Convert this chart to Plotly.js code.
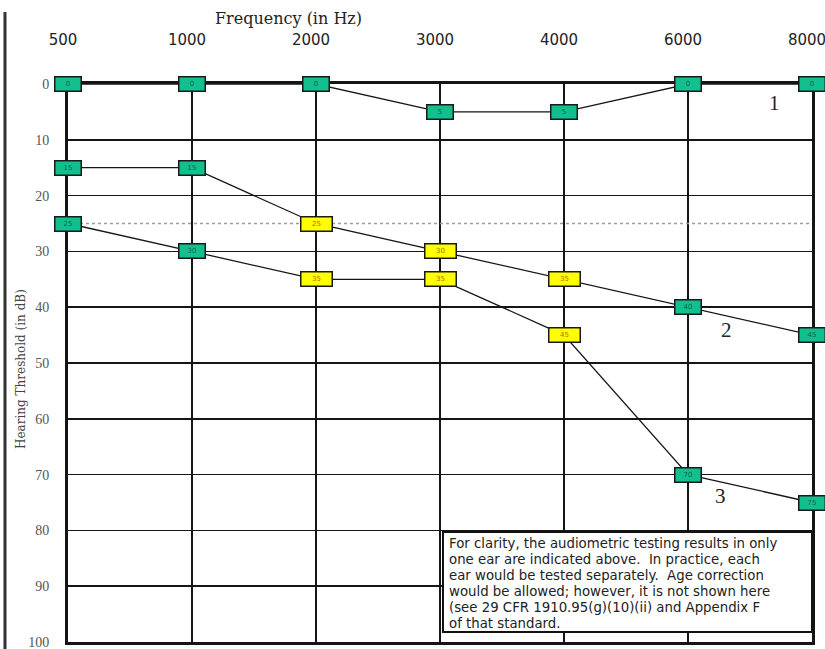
<!DOCTYPE html>
<html>
<head>
<meta charset="utf-8">
<script src="https://cdn.plot.ly/plotly-3.0.1.min.js"></script>
<style>
  html, body { margin: 0; padding: 0; background: #fff; }
  #chart { width: 825px; height: 649px; }
</style>
</head>
<body>
<div id="chart"></div>
<script>
// ---- data ----
const frequencies = ['500', '1000', '2000', '3000', '4000', '6000', '8000'];
const curve1 = [0, 0, 0, 5, 5, 0, 0];
const curve2 = [15, 15, 25, 30, 35, 40, 45];
const curve3 = [25, 30, 35, 35, 45, 70, 75];
const curveNames = ['1', '2', '3'];
const referenceLevel = 25;           // dotted reference line (dB)
const yTicks = [0, 10, 20, 30, 40, 50, 60, 70, 80, 90, 100];
const noteLines = [
  'For clarity, the audiometric testing results in only',
  'one ear are indicated above.  In practice, each',
  'ear would be tested separately.  Age correction',
  'would be allowed; however, it is not shown here',
  '(see 29 CFR 1910.95(g)(10)(ii) and Appendix F',
  'of that standard.'
];

// ---- styles ----
const GREEN = '#12c08f';
const YELLOW = '#ffff00';
const highlighted = ['2000', '3000', '4000']; // yellow boxes on curves 2 and 3
const serif = 'Liberation Serif, Times New Roman, serif';
const wideSerif = 'DejaVu Serif, serif';
const sans = 'DejaVu Sans, Verdana, sans-serif';

const curves = [curve1, curve2, curve3];
const xIndex = frequencies.map((f, i) => i);

const traces = [];
// dotted reference line
traces.push({
  x: frequencies, y: frequencies.map(() => referenceLevel),
  mode: 'lines', type: 'scatter', hoverinfo: 'skip', showlegend: false,
  line: { color: '#9a9a9a', width: 1.5, dash: 'dot' }
});
curves.forEach((c) => {
  traces.push({
    x: frequencies, y: c, mode: 'lines', type: 'scatter', showlegend: false,
    line: { color: '#151515', width: 1.3 }
  });
});

const annotations = [];
curves.forEach((c, ci) => {
  c.forEach((v, i) => {
    const yellow = ci > 0 && highlighted.includes(frequencies[i]);
    annotations.push({
      x: xIndex[i], y: v, xref: 'x', yref: 'y', showarrow: false,
      xanchor: 'center', yanchor: 'middle',
      text: String(v),
      font: { family: sans, size: 7, color: yellow ? '#b06a00' : '#0b5f45' },
      bgcolor: yellow ? YELLOW : GREEN,
      bordercolor: '#1a1a1a', borderwidth: 1.5, borderpad: 1,
      width: yellow ? 28 : 23, height: 11
    });
  });
});

// curve number labels
const labelPos = [[5.70, 3.4], [5.31, 44.0], [5.26, 73.8]];
curveNames.forEach((n, i) => {
  annotations.push({
    x: labelPos[i][0], y: labelPos[i][1], xref: 'x', yref: 'y', showarrow: false,
    xanchor: 'center', yanchor: 'middle',
    text: n, font: { family: serif, size: 21, color: '#222' }
  });
});

// axis titles
annotations.push({
  x: 0.296, y: 1.118, xref: 'paper', yref: 'paper', showarrow: false,
  xanchor: 'center', yanchor: 'middle', text: 'Frequency (in Hz)',
  font: { family: wideSerif, size: 16, color: '#222' }
});
annotations.push({
  x: -0.064, y: 0.49, xref: 'paper', yref: 'paper', showarrow: false,
  xanchor: 'center', yanchor: 'middle',
  textangle: -90, text: 'Hearing Threshold (in dB)',
  font: { family: wideSerif, size: 12, color: '#444' }
});

// note lines
noteLines.forEach((t, i) => {
  annotations.push({
    x: 0.51, y: 0.176 - i * 0.0284, xref: 'paper', yref: 'paper', showarrow: false,
    xanchor: 'left', yanchor: 'middle', align: 'left',
    text: t, font: { family: sans, size: 13.3, color: '#222' }
  });
});

const layout = {
  width: 825, height: 649,
  margin: { l: 68, r: 13, t: 84, b: 7 },
  paper_bgcolor: '#ffffff', plot_bgcolor: '#ffffff',
  showlegend: false,
  xaxis: {
    type: 'category', side: 'top', range: [0, 6],
    showgrid: true, gridcolor: '#151515', gridwidth: 1.6,
    showline: true, mirror: true, linecolor: '#151515', linewidth: 3,
    ticks: '', ticklabelstandoff: 30, ticklabelshift: -5,
    tickfont: { family: sans, size: 15, color: '#222' },
    zeroline: false, fixedrange: true
  },
  yaxis: {
    range: [100, 0], tickvals: yTicks,
    showgrid: true, gridcolor: '#151515', gridwidth: 1.6,
    showline: true, mirror: true, linecolor: '#151515', linewidth: 3,
    ticks: '', ticklabelstandoff: 13, ticklabeloverflow: 'allow',
    tickfont: { family: serif, size: 14, color: '#555' },
    zeroline: false, fixedrange: true
  },
  shapes: [
    { type: 'line', xref: 'paper', yref: 'paper', x0: -0.0847, x1: -0.0847,
      y0: -0.02, y1: 1.129, line: { color: '#333', width: 3 } },
    { type: 'rect', xref: 'paper', yref: 'paper', layer: 'above',
      x0: 0.504, x1: 1.0, y0: 0.0179, y1: 0.197,
      fillcolor: '#ffffff', line: { color: '#111', width: 2 } }
  ],
  annotations: annotations
};

Plotly.newPlot('chart', traces, layout, { displayModeBar: false, staticPlot: true });
</script>
</body>
</html>
